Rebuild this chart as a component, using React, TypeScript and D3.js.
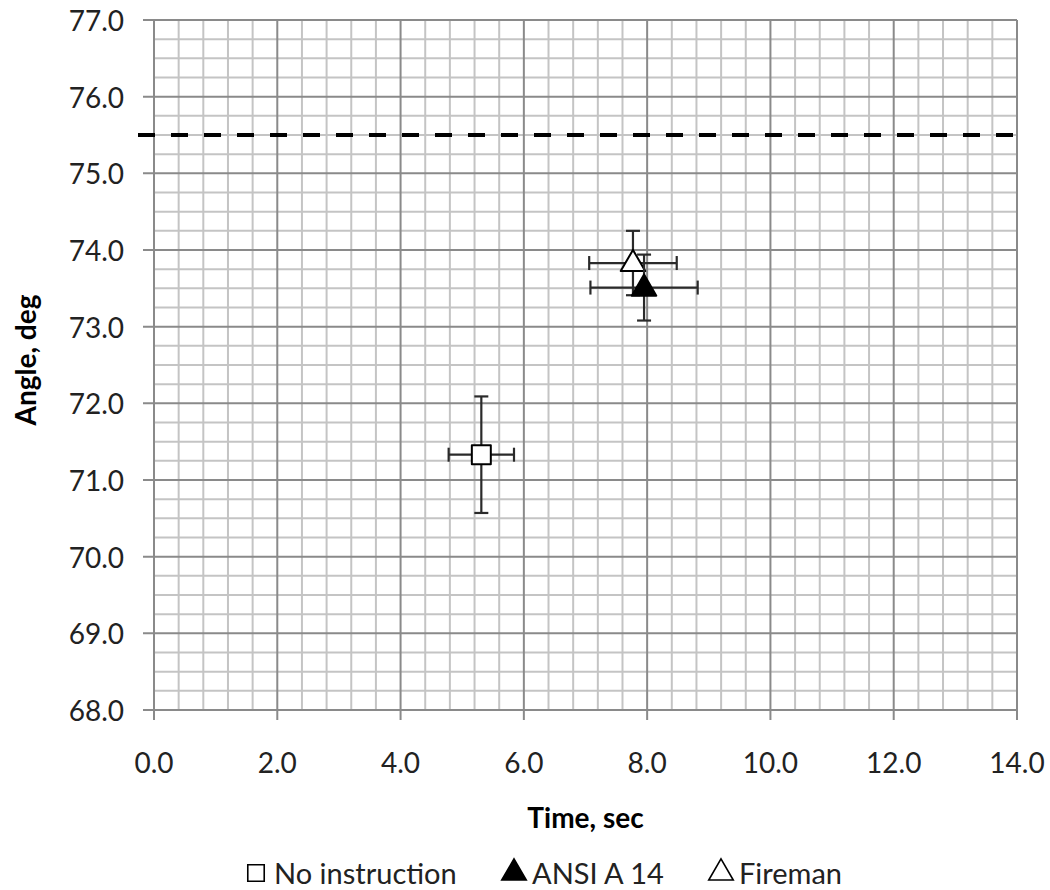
import React, { useEffect, useRef } from 'react';
import * as d3 from 'd3';

// Data
const seriesNames = ['No instruction', 'ANSI A 14', 'Fireman'];
const seriesX = [5.31, 7.95, 7.77];
const seriesY = [71.33, 73.51, 73.83];
const errX = [0.53, 0.87, 0.71];
const errY = [0.76, 0.43, 0.42];
const seriesShape = ['square', 'triangle', 'triangle'];
const seriesFill = ['#ffffff', '#000000', '#ffffff'];
const drawOrder = [0, 2, 1];

const xTicks = [0, 2, 4, 6, 8, 10, 12, 14];
const yTicks = [68, 69, 70, 71, 72, 73, 74, 75, 76, 77];
const referenceAngle = 75.5;

const W = 1050;
const H = 890;
const margin = { left: 154, top: 20, right: 33, bottom: 180 };
const FONT = 'Lato, "Open Sans", sans-serif';

const App = () => {
    const svgRef = useRef<SVGSVGElement>(null);

    useEffect(() => {
        if (!svgRef.current) return;
        const svg = d3.select(svgRef.current);
        svg.selectAll('*').remove();

        const x = d3.scaleLinear().domain([0, 14]).range([margin.left, W - margin.right]);
        const y = d3.scaleLinear().domain([68, 77]).range([H - margin.bottom, margin.top]);

        const grid = svg.append('g');

        // minor grid
        const minorX = d3.range(0, 14.0001, 0.4).filter(v => Math.abs(v / 2 - Math.round(v / 2)) > 1e-6);
        const minorY = d3.range(68, 77.0001, 0.25).filter(v => Math.abs(v - Math.round(v)) > 1e-6);
        grid.selectAll('.mx').data(minorX).enter().append('line')
            .attr('x1', d => x(d)).attr('x2', d => x(d))
            .attr('y1', y(68)).attr('y2', y(77))
            .attr('stroke', '#c4c4c4').attr('stroke-width', 2);
        grid.selectAll('.my').data(minorY).enter().append('line')
            .attr('x1', x(0)).attr('x2', x(14))
            .attr('y1', d => y(d)).attr('y2', d => y(d))
            .attr('stroke', '#c4c4c4').attr('stroke-width', 2);

        // major grid
        grid.selectAll('.Mx').data(xTicks).enter().append('line')
            .attr('x1', d => x(d)).attr('x2', d => x(d))
            .attr('y1', y(68) + 10).attr('y2', y(77))
            .attr('stroke', '#8a8a8a').attr('stroke-width', 2);
        grid.selectAll('.My').data(yTicks).enter().append('line')
            .attr('x1', x(0) - 11).attr('x2', x(14))
            .attr('y1', d => y(d)).attr('y2', d => y(d))
            .attr('stroke', '#8a8a8a').attr('stroke-width', 2);

        // tick labels
        svg.selectAll('.yl').data(yTicks).enter().append('text')
            .attr('x', 124).attr('y', d => y(d))
            .attr('text-anchor', 'end').attr('dominant-baseline', 'central')
            .attr('font-family', FONT).attr('font-size', 28).attr('fill', '#222')
            .text(d => d.toFixed(1));
        svg.selectAll('.xl').data(xTicks).enter().append('text')
            .attr('x', d => x(d)).attr('y', 773)
            .attr('text-anchor', 'middle')
            .attr('font-family', FONT).attr('font-size', 28).attr('fill', '#222')
            .text(d => d.toFixed(1));

        // axis titles
        svg.append('text')
            .attr('x', (x(0) + x(14)) / 2).attr('y', 828)
            .attr('text-anchor', 'middle')
            .attr('font-family', FONT).attr('font-size', 28).attr('font-weight', 700)
            .text('Time, sec');
        svg.append('text')
            .attr('transform', `translate(36, ${(y(68) + y(77)) / 2 - 5}) rotate(-90)`)
            .attr('text-anchor', 'middle')
            .attr('font-family', FONT).attr('font-size', 28).attr('font-weight', 700)
            .text('Angle, deg');

        // reference dashed line
        svg.append('line')
            .attr('x1', x(0) - 16).attr('x2', x(14))
            .attr('y1', y(referenceAngle)).attr('y2', y(referenceAngle))
            .attr('stroke', '#000').attr('stroke-width', 4)
            .attr('stroke-dasharray', '17,16');

        // error bars and markers
        const cap = 7;
        const marks = svg.append('g');
        drawOrder.forEach(i => {
            const cx = x(seriesX[i]);
            const cy = y(seriesY[i]);
            const g = marks.append('g').attr('stroke', '#2a2a2a').attr('stroke-width', 2.2);
            g.append('line').attr('x1', x(seriesX[i] - errX[i])).attr('x2', x(seriesX[i] + errX[i]))
                .attr('y1', cy).attr('y2', cy);
            g.append('line').attr('x1', cx).attr('x2', cx)
                .attr('y1', y(seriesY[i] - errY[i])).attr('y2', y(seriesY[i] + errY[i]));
            [seriesX[i] - errX[i], seriesX[i] + errX[i]].forEach(v => {
                g.append('line').attr('x1', x(v)).attr('x2', x(v)).attr('y1', cy - cap).attr('y2', cy + cap);
            });
            [seriesY[i] - errY[i], seriesY[i] + errY[i]].forEach(v => {
                g.append('line').attr('x1', cx - cap).attr('x2', cx + cap).attr('y1', y(v)).attr('y2', y(v));
            });
            const sym = seriesShape[i] === 'square'
                ? d3.symbol().type(d3.symbolSquare).size(360)
                : d3.symbol().type(d3.symbolTriangle).size(260);
            marks.append('path')
                .attr('d', sym() as string)
                .attr('transform', `translate(${cx}, ${cy + (seriesShape[i] === 'triangle' ? 1 : 0)})`)
                .attr('fill', seriesFill[i])
                .attr('stroke', '#000').attr('stroke-width', 2)
                .attr('stroke-linejoin', 'round');
        });

        // legend
        const legendX = [247, 505, 712];
        const legend = svg.append('g');
        seriesNames.forEach((name, i) => {
            const lx = legendX[i];
            const ly = 872;
            const sym = seriesShape[i] === 'square'
                ? d3.symbol().type(d3.symbolSquare).size(270)
                : d3.symbol().type(d3.symbolTriangle).size(260);
            legend.append('path')
                .attr('d', sym() as string)
                .attr('transform', `translate(${lx + 9}, ${ly + 1})`)
                .attr('fill', seriesFill[i])
                .attr('stroke', '#000').attr('stroke-width', 1.6);
            legend.append('text')
                .attr('x', lx + 27).attr('y', ly)
                .attr('dominant-baseline', 'central')
                .attr('font-family', FONT).attr('font-size', 29).attr('fill', '#222')
                .text(name);
        });
    }, []);

    return (
        <svg ref={svgRef} width={W} height={H} viewBox={`0 0 ${W} ${H}`}
            style={{ position: 'absolute', left: 0, top: 0, background: '#fff' }} />
    );
};

export default App;
